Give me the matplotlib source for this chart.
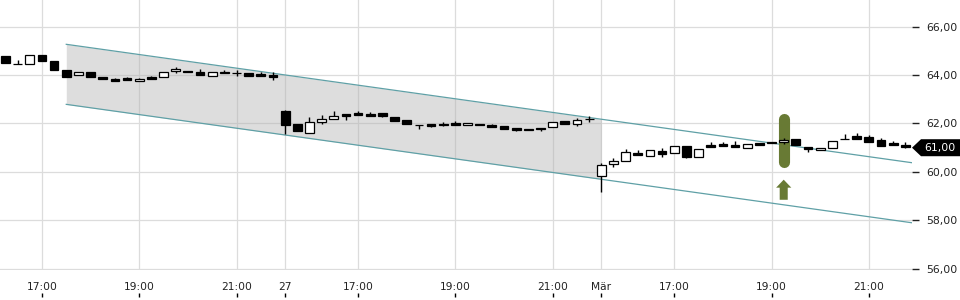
import numpy as np
import matplotlib
matplotlib.use('Agg')
import matplotlib.pyplot as plt
from matplotlib.patches import Polygon
from matplotlib.transforms import blended_transform_factory

# 15-minute candles, 26 Feb 16:15 .. 28 Feb (Mär) 21:45, index = trading slot
opens = [64.78, 64.47, 64.44, 64.81, 64.60, 64.21, 64.00, 64.14, 63.92, 63.85,
         63.89, 63.76, 63.93, 63.92, 64.17, 64.18, 64.14, 63.98, 64.14, 64.09,
         64.10, 64.05, 64.02,
         62.50, 61.98, 61.61, 62.06, 62.17, 62.38, 62.43, 62.39, 62.42, 62.28,
         62.13, 61.95, 61.98, 61.97, 62.02, 61.94, 61.99, 61.95, 61.88, 61.80,
         61.79, 61.81, 61.87, 62.09, 61.98, 62.20,
         59.84, 60.33, 60.46, 60.78, 60.66, 60.86, 60.78, 61.08, 60.62, 61.12,
         61.16, 61.12, 60.99, 61.19, 61.22, 61.24, 61.34, 61.03, 60.92, 60.99,
         61.38, 61.47, 61.43, 61.30, 61.19, 61.12]
highs = [64.78, 64.63, 64.83, 64.81, 64.60, 64.21, 64.14, 64.14, 63.92, 63.88,
         63.93, 63.89, 63.97, 64.13, 64.35, 64.18, 64.26, 64.14, 64.22, 64.20,
         64.10, 64.14, 64.14,
         62.57, 61.98, 62.27, 62.34, 62.51, 62.38, 62.53, 62.48, 62.45, 62.28,
         62.13, 61.95, 61.98, 62.05, 62.10, 62.02, 61.99, 61.96, 61.86, 61.83,
         61.79, 61.81, 62.06, 62.07, 62.24, 62.29,
         60.37, 60.58, 60.96, 60.92, 60.89, 60.97, 61.08, 61.08, 60.95, 61.25,
         61.25, 61.29, 61.15, 61.19, 61.22, 61.41, 61.34, 61.03, 61.00, 61.26,
         61.55, 61.59, 61.51, 61.40, 61.29, 61.25]
lows = [64.48, 64.46, 64.44, 64.60, 64.19, 63.90, 64.00, 63.93, 63.84, 63.77,
        63.81, 63.76, 63.85, 63.92, 64.10, 64.11, 64.00, 63.98, 64.09, 63.95,
        63.98, 63.98, 63.81,
        61.57, 61.69, 61.61, 61.99, 62.17, 62.13, 62.36, 62.32, 62.28, 62.09,
        61.96, 61.79, 61.85, 61.90, 61.95, 61.94, 61.94, 61.84, 61.76, 61.71,
        61.73, 61.70, 61.86, 61.96, 61.88, 62.07,
        59.17, 60.20, 60.46, 60.70, 60.66, 60.63, 60.78, 60.56, 60.62, 61.05,
        61.08, 61.04, 60.99, 61.12, 61.18, 61.16, 61.10, 60.83, 60.92, 60.99,
        61.37, 61.36, 61.25, 61.08, 61.11, 61.00]
closes = [64.48, 64.46, 64.83, 64.60, 64.19, 63.90, 64.14, 63.93, 63.84, 63.77,
          63.81, 63.85, 63.85, 64.13, 64.26, 64.11, 64.00, 64.14, 64.09, 64.08,
          63.98, 63.98, 63.93,
          61.95, 61.69, 62.06, 62.17, 62.32, 62.32, 62.36, 62.32, 62.33, 62.10,
          61.99, 61.94, 61.91, 61.96, 61.95, 62.02, 61.94, 61.87, 61.79, 61.74,
          61.73, 61.80, 62.06, 61.99, 62.14, 62.19,
          60.28, 60.45, 60.82, 60.70, 60.89, 60.75, 61.08, 60.62, 60.95, 61.05,
          61.08, 61.04, 61.15, 61.12, 61.18, 61.33, 61.10, 60.95, 61.00, 61.26,
          61.37, 61.36, 61.25, 61.08, 61.11, 61.02]

tick_pos = [3, 11, 19, 23, 29, 37, 45, 49, 55, 63, 71]
tick_labels = ['17:00', '19:00', '21:00', '27', '17:00', '19:00', '21:00',
               'Mär', '17:00', '19:00', '21:00']

# trend channel (slot index, price)
chan_x = [5, 74.55]
chan_upper = [65.27, 60.38]
chan_lower = [62.79, 57.90]
shade_end = 49

signal_idx = 64
signal_range = [60.17, 62.40]
arrow_range = [58.85, 59.68]
last_price = 61.00

green = '#687a34'
teal = '#5fa0a6'

fig = plt.figure(figsize=(9.6, 3.0), dpi=100)
ax = fig.add_axes([0, 0.1, 0.95, 0.9])
ax.set_xlim(-0.45, 74.55)
ax.set_ylim(55.95, 67.10)
for s in ax.spines.values():
    s.set_visible(False)

ax.set_axisbelow(True)
ax.grid(True, color='#dcdcdc', lw=0.9)

# channel
sx = np.linspace(chan_x[0], shade_end, 50)
ax.fill_between(sx, np.interp(sx, chan_x, chan_lower), np.interp(sx, chan_x, chan_upper),
                color='#b0b0b0', alpha=0.42, lw=0, zorder=1)
ax.plot(chan_x, chan_upper, color=teal, lw=0.9, zorder=2)
ax.plot(chan_x, chan_lower, color=teal, lw=0.9, zorder=2)

# signal marker
cap = 5.5 / 24.2
ax.plot([signal_idx, signal_idx], [signal_range[0] + cap, signal_range[1] - cap],
        color=green, lw=8.0, solid_capstyle='round', zorder=3)
ax.arrow(signal_idx, arrow_range[0], 0, arrow_range[1] - arrow_range[0], width=0.66,
         head_width=1.25, head_length=0.33, length_includes_head=True,
         fc=green, ec='none', zorder=3)

# candles
x = np.arange(len(opens))
o = np.array(opens)
c = np.array(closes)
ax.vlines(x, lows, highs, color='black', lw=1.0, zorder=4)
body = c - o
body = np.where(np.abs(body) < 0.02, np.where(body < 0, -0.02, 0.02), body)
colors = np.where(c > o, 'white', 'black')
ax.bar(x, body, bottom=o, width=0.72, color=colors, edgecolor='black', lw=0.9, zorder=5)

# axes ticks
ax.yaxis.tick_right()
yt = np.arange(56, 67, 2)
ax.set_yticks(yt)
ax.set_yticklabels([f'{v:.2f}'.replace('.', ',') for v in yt])
ax.tick_params(axis='y', length=5, width=1, pad=5, labelsize=7.8, colors='#222222')
ax.set_xticks(tick_pos)
ax.set_xticklabels(tick_labels)
ax.tick_params(axis='x', length=0, pad=9, labelsize=7.7, colors='#222222')

ax2 = ax.twiny()
ax2.set_xlim(ax.get_xlim())
for s in ax2.spines.values():
    s.set_visible(False)
ax2.spines['bottom'].set_position(('outward', 16.5))
ax2.xaxis.set_ticks_position('bottom')
ax2.set_xticks(tick_pos)
ax2.set_xticklabels([])
ax2.tick_params(axis='x', length=3, width=1, direction='out', color='black')

# last price tag
tr = blended_transform_factory(ax.transAxes, ax.transData)
h = 8.5 / 24.2
tag = Polygon([(1.0, last_price), (1.0099, last_price + h), (1.06, last_price + h),
               (1.06, last_price - h), (1.0099, last_price - h)],
              closed=True, transform=tr, fc='black', ec='none', clip_on=False, zorder=6)
ax.add_patch(tag)
ax.text(1.0135, last_price, f'{last_price:.2f}'.replace('.', ','), transform=tr,
        color='white', fontsize=7.8, va='center', ha='left', zorder=7)

fig.savefig('out.png', dpi=100)
